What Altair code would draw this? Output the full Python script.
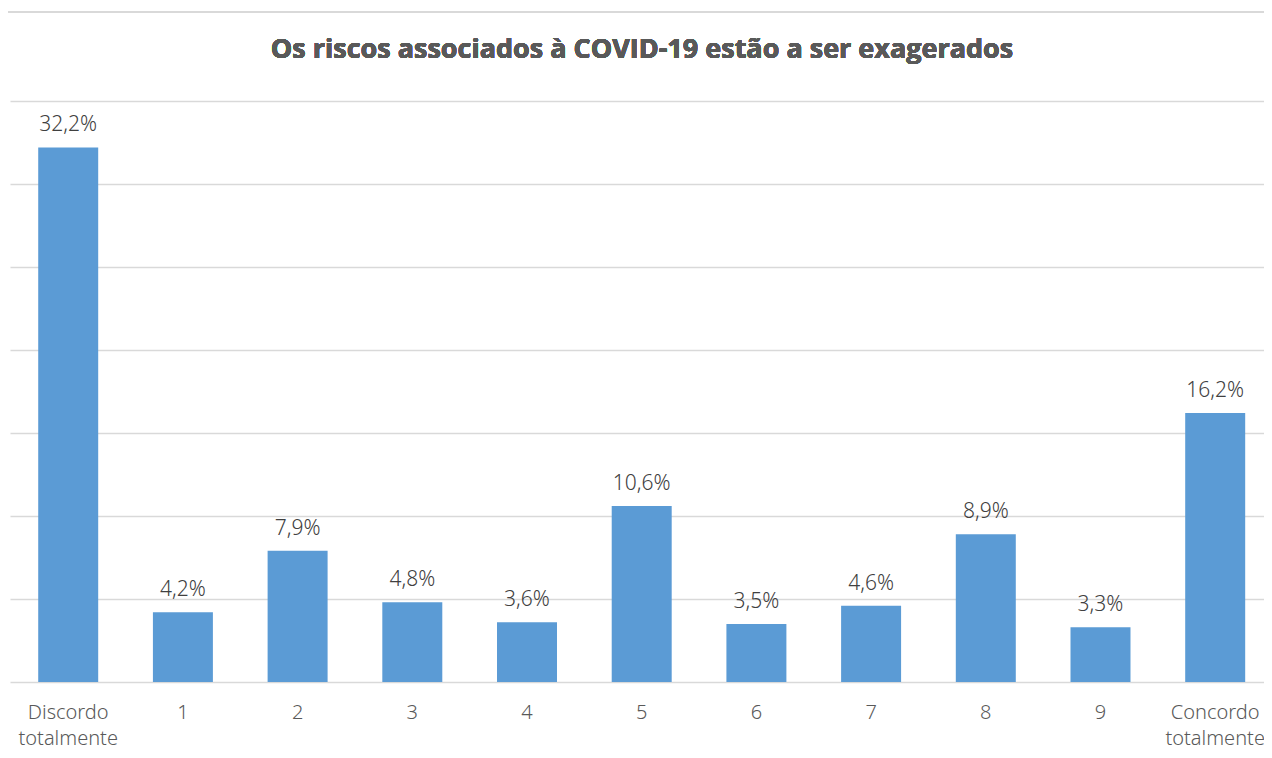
import altair as alt
import pandas as pd

categories = ["Discordo totalmente", "1", "2", "3", "4", "5", "6", "7", "8", "9", "Concordo totalmente"]
values = [32.2, 4.2, 7.9, 4.8, 3.6, 10.6, 3.5, 4.6, 8.9, 3.3, 16.2]
labels = [f"{v:.1f}%".replace(".", ",") for v in values]
title_text = "Os riscos associados à COVID-19 estão a ser exagerados"

df = pd.DataFrame({"cat": categories, "val": values, "lab": labels})

FONT = "Noto Sans"
W, H = 1254, 581

x = alt.X("cat:N", sort=categories, title=None,
          scale=alt.Scale(paddingInner=0.477, paddingOuter=0.205, align=0.6),
          axis=alt.Axis(labelAngle=0, labelFont=FONT, labelFontSize=20, labelColor="#595959",
                        labelFontWeight=300,
                        labelPadding=20, labelLineHeight=26, domain=False, ticks=False,
                        labelExpr="split(datum.label, ' ')"))
y = alt.Y("val:Q", title=None,
          scale=alt.Scale(domain=[0, 35], nice=False),
          axis=alt.Axis(values=[0, 5, 10, 15, 20, 25, 30, 35], labels=False, ticks=False,
                        domain=False, grid=True, gridColor="#d9d9d9", gridWidth=1.3))

base = alt.Chart(df)
bars = base.mark_bar(color="#5b9bd5").encode(x=x, y=y)
text = base.mark_text(baseline="bottom", dy=-12, font=FONT, fontSize=21, fontWeight=300,
                      color="#404040").encode(
    x=alt.X("cat:N", sort=categories), y="val:Q", text="lab:N")
topline = base.mark_rule(color="#d9d9d9", strokeWidth=1.3).encode(
    x=alt.value(-6), x2=alt.value(W + 8), y=alt.value(-89))
title = base.mark_text(font="Open Sans", fontSize=27, fontWeight="bold", color="#595959",
                       baseline="middle", align="center").encode(
    x=alt.value(W / 2 + 5), y=alt.value(-51), text=alt.value(title_text))

chart = alt.layer(topline, bars, text, title).properties(
    width=W, height=H,
    autosize=alt.AutoSizeParams(type="none"),
    padding={"left": 2, "top": 93, "right": 0, "bottom": 68},
).configure_view(stroke=None)

chart.save("out.html", embed_options={"renderer": "svg", "actions": False})
